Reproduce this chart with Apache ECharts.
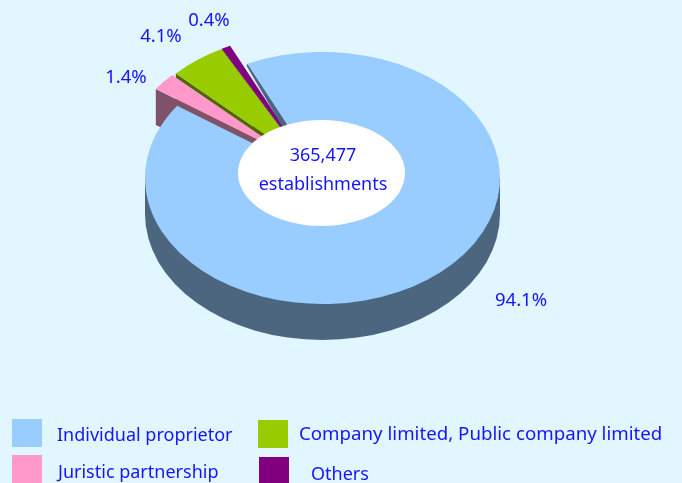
<!DOCTYPE html>
<html>
<head>
<meta charset="utf-8">
<style>
  html,body{margin:0;padding:0;background:#e1f6ff;}
  #chart{width:682px;height:483px;}
</style>
<script src="https://cdn.jsdelivr.net/npm/echarts@6/dist/echarts.min.js"></script>
</head>
<body>
<div id="chart"></div>
<script>
const names=['Individual proprietor','Juristic partnership','Company limited, Public company limited','Others']
const shares=[94.1,1.4,4.1,0.4] //printed labels
//the wedges in the picture are not in proportion to the printed labels, so sweep is read off the picture too
const sweeps=[330,9,18,3]
const explode=[0,45,25,28.4]
const explodeDir=[0,46,37,35] //degrees left of 12 o'clock
const radius=[177.5,164,183,180]
const topColors=['#99ccff','#ff99cc','#99cc00','#800080']
const sideColors=['#4d6680','#80516a','#4d6600','#400040']
const labelPos=[[521,301],[126,78],[161,37],[209,21]]
const legendPos=[[12,419],[12,455],[258,420],[259,457]]
const legendGap=[10,11,6,17]
const legendFontSize=[18,18,18.7,18]
const legendDrop=[6,8,1,8] //height of the blank line above the text, pushes it down by half
const totalText=['365,477','establishments']

const cx=322.5,cy=178,squash=0.71,depth=36,startAngle=-25
const font='"Noto Sans"',textColor='#1414ff',labelSize=18.5,totalSize=18

function renderSlice(i,startA){
  return (params,api)=>{
    const sweep=api.value(1)
    const dir=explodeDir[i]*Math.PI/180
    const ox=cx-explode[i]*Math.sin(dir)
    const oy=cy-explode[i]*Math.cos(dir)*squash
    const r=radius[i]
    const a0=startA*Math.PI/180
    const outer=[ox+r*Math.sin(a0),oy-r*Math.cos(a0)*squash]
    const children=[]
    if(i===0){
      //rim of the big slice
      children.push({type:'sector',x:cx,y:cy+depth,scaleY:squash,
        shape:{cx:0,cy:0,r:r,r0:0,startAngle:0,endAngle:Math.PI,clockwise:true},style:{fill:sideColors[0]}})
      children.push({type:'rect',shape:{x:cx-r,y:cy,width:r*2,height:depth},style:{fill:sideColors[0]}})
      //thin tapered cut face next to the gap
      children.push({type:'polygon',shape:{points:[outer,[ox,oy],[ox-10,oy],[outer[0]-1,outer[1]+2]]},style:{fill:sideColors[0]}})
    }else{
      children.push({type:'polygon',shape:{points:[outer,[ox,oy],[ox,oy+depth],[outer[0],outer[1]+depth]]},style:{fill:sideColors[i]}})
    }
    children.push({type:'sector',x:ox,y:oy,scaleY:squash,
      shape:{cx:0,cy:0,r:r,r0:0,
        startAngle:(startA-90)*Math.PI/180,endAngle:(startA+sweep-90)*Math.PI/180,clockwise:true},
      style:{fill:topColors[i]}})
    children.push({type:'text',z2:10,x:labelPos[i][0],y:labelPos[i][1],
      style:{text:api.value(0).toFixed(1)+'%',fill:textColor,font:labelSize+'px '+font,align:'center',verticalAlign:'middle'}})
    return {type:'group',children:children}
  }
}

let start=startAngle
const starts=sweeps.map(s=>{const a=start;start+=s;return a})
//drawn back to front
const series=[3,2,1,0].map(i=>({
  type:'custom',
  name:names[i],
  coordinateSystem:'none',
  silent:true,
  itemStyle:{color:topColors[i]},
  renderItem:renderSlice(i,starts[i]),
  data:[[shares[i],sweeps[i]]],
  z:2
}))

const chart=echarts.init(document.getElementById('chart'))
chart.setOption({
  animation:false,
  backgroundColor:'#e1f6ff',
  legend:names.map((n,i)=>({
    data:[n],
    left:legendPos[i][0],
    top:legendPos[i][1],
    padding:0,
    icon:'rect',
    itemWidth:30,
    itemHeight:28,
    selectedMode:false,
    formatter:name=>'{g| }\n{t|'+name+'}',
    textStyle:{
      color:textColor,
      fontFamily:font,
      fontSize:legendFontSize[i],
      padding:[0,0,0,legendGap[i]],
      rich:{
        g:{fontSize:1,height:legendDrop[i],lineHeight:legendDrop[i]},
        t:{color:textColor,fontFamily:font,fontSize:legendFontSize[i]}
      }
    }
  })),
  series:series,
  graphic:[
    {type:'ellipse',z:20,shape:{cx:321.5,cy:173,rx:83.5,ry:53},style:{fill:'#fff'}},
    {type:'text',z:21,x:323,y:156,style:{text:totalText[0],fill:textColor,font:totalSize+'px '+font,align:'center',verticalAlign:'middle'}},
    {type:'text',z:21,x:323,y:185,style:{text:totalText[1],fill:textColor,font:totalSize+'px '+font,align:'center',verticalAlign:'middle'}}
  ]
})
</script>
</body>
</html>
